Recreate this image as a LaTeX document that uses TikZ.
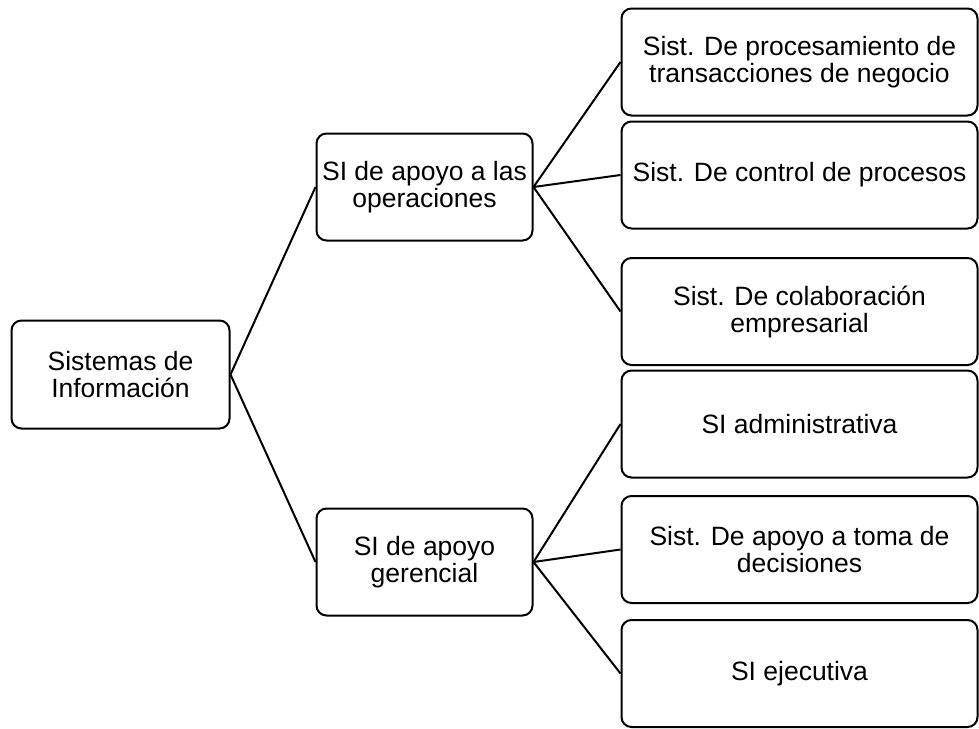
\documentclass[tikz,border=0pt]{standalone}
\usepackage{fontspec}
\setmainfont{Liberation Sans}
\begin{document}
\begin{tikzpicture}[x=1pt,y=-1pt,
  box/.style={draw=black, line width=2pt, rounded corners=10pt, fill=white,
    align=center, inner sep=0pt, font=\fontsize{26.5}{27}\selectfont},
  leftbox/.style={box, minimum width=218pt, minimum height=108pt},
  midbox/.style={box, minimum width=216pt, minimum height=107pt},
  rightbox/.style={box, minimum width=356pt, minimum height=107pt},
  link/.style={draw=black, line width=2pt}]
\useasboundingbox (0,0) rectangle (979,728);

% root
\node[leftbox] (root) at (120.5,374.5) {Sistemas de\\Información};

% second level
\node[midbox] (ops) at (424.5,187) {SI de apoyo a las\\operaciones};
\node[midbox] (ger) at (424.5,562) {SI de apoyo\\gerencial};

% leaves
\node[rightbox] (r1) at (799.5,62)    {Sist. De procesamiento de\\transacciones de negocio};
\node[rightbox] (r2) at (799.5,175)   {Sist. De control de procesos};
\node[rightbox] (r3) at (799.5,311.5) {Sist. De colaboración\\empresarial};
\node[rightbox] (r4) at (799.5,424)   {SI administrativa};
\node[rightbox] (r5) at (799.5,549.5) {Sist. De apoyo a toma de\\decisiones};
\node[rightbox] (r6) at (799.5,673.5) {SI ejecutiva};

% connectors
\draw[link] (root.east) -- (ops.west);
\draw[link] (root.east) -- (ger.west);
\draw[link] (ops.east) -- (r1.west);
\draw[link] (ops.east) -- (r2.west);
\draw[link] (ops.east) -- (r3.west);
\draw[link] (ger.east) -- (r4.west);
\draw[link] (ger.east) -- (r5.west);
\draw[link] (ger.east) -- (r6.west);
\end{tikzpicture}
\end{document}
